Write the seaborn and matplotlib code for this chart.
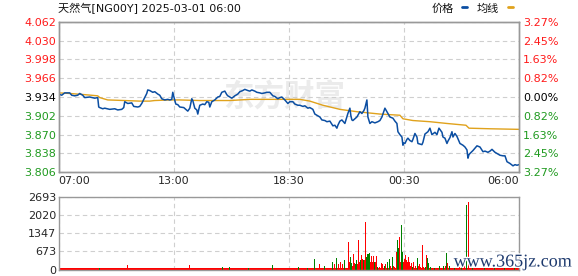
import matplotlib
matplotlib.use("Agg")
import matplotlib.pyplot as plt
import matplotlib.patheffects as pe
from matplotlib.lines import Line2D
import pandas as pd
import seaborn as sns

# ---------------- data ----------------
title_text = "天然气[NG00Y] 2025-03-01 06:00"
legend_price = "价格"
legend_avg = "均线"
watermark_cn = "东方财富"
watermark_site = "www.365jz.com"

price_ticks = [3.806, 3.838, 3.870, 3.902, 3.934, 3.966, 3.998, 4.030, 4.062]
price_tick_labels = ["3.806", "3.838", "3.870", "3.902", "3.934", "3.966", "3.998", "4.030", "4.062"]
pct_labels = ["3.27%", "2.45%", "1.63%", "0.82%", "0.00%", "0.82%", "1.63%", "2.45%", "3.27%"]
tick_side = ["down", "down", "down", "down", "flat", "up", "up", "up", "up"]

time_ticks = [0, 345, 690, 1035, 1380]          # minutes from 07:00
time_labels = ["07:00", "13:00", "18:30", "00:30", "06:00"]

vol_ticks = [0, 673, 1347, 2020, 2693]
vol_labels = ["0", "673", "1347", "2020", "2693"]

# price series (minutes after 07:00, price)
price_min = [0, 9, 18, 33, 39, 48, 57, 63, 72, 78, 93, 108, 117, 120, 123, 132, 138, 153, 168, 177,
             189, 195, 198, 207, 219, 225, 237, 243, 249, 258, 264, 267, 273, 282, 288, 297, 303, 309, 318, 327,
             333, 339, 342, 345, 351, 357, 363, 375, 387, 393, 399, 402, 408, 414, 417, 420, 423, 432, 438, 444,
             450, 453, 459, 468, 477, 483, 489, 498, 504, 507, 513, 519, 528, 537, 543, 552, 558, 567, 573, 579,
             588, 594, 603, 609, 618, 624, 633, 642, 648, 657, 663, 669, 678, 687, 693, 702, 708, 717, 723, 732,
             738, 747, 753, 762, 768, 777, 783, 789, 798, 804, 813, 822, 828, 834, 837, 843, 849, 858, 864, 867,
             873, 876, 879, 882, 888, 894, 903, 909, 915, 918, 924, 927, 933, 939, 948, 957, 963, 969, 978, 984,
             993, 1002, 1008, 1014, 1017, 1023, 1029, 1032, 1035, 1038, 1044, 1047, 1053, 1059, 1062, 1068, 1074, 1077, 1083, 1089,
             1092, 1098, 1107, 1113, 1119, 1128, 1134, 1140, 1149, 1152, 1158, 1164, 1167, 1173, 1179, 1182, 1188, 1194, 1203, 1212,
             1218, 1224, 1227, 1230, 1233, 1242, 1248, 1254, 1263, 1272, 1278, 1287, 1293, 1299, 1308, 1317, 1323, 1332, 1338, 1344,
             1353, 1362, 1368, 1374, 1380]
price_val = [3.939, 3.937, 3.941, 3.941, 3.937, 3.936, 3.937, 3.940, 3.937, 3.933, 3.934, 3.932, 3.933, 3.917, 3.916, 3.914, 3.915, 3.913, 3.914, 3.912,
             3.913, 3.916, 3.926, 3.923, 3.924, 3.918, 3.917, 3.918, 3.923, 3.933, 3.940, 3.946, 3.945, 3.942, 3.943, 3.939, 3.937, 3.931, 3.929, 3.930,
             3.929, 3.930, 3.942, 3.935, 3.922, 3.921, 3.917, 3.916, 3.910, 3.915, 3.931, 3.928, 3.915, 3.912, 3.905, 3.913, 3.920, 3.922, 3.921, 3.926,
             3.925, 3.917, 3.926, 3.929, 3.934, 3.935, 3.942, 3.944, 3.938, 3.936, 3.934, 3.932, 3.936, 3.939, 3.943, 3.945, 3.947, 3.945, 3.944, 3.946,
             3.944, 3.942, 3.941, 3.940, 3.941, 3.942, 3.942, 3.936, 3.935, 3.931, 3.933, 3.934, 3.929, 3.923, 3.926, 3.926, 3.922, 3.920, 3.920, 3.918,
             3.919, 3.915, 3.916, 3.913, 3.905, 3.902, 3.900, 3.895, 3.894, 3.892, 3.893, 3.885, 3.886, 3.881, 3.886, 3.893, 3.895, 3.889, 3.900, 3.906,
             3.915, 3.902, 3.895, 3.894, 3.897, 3.900, 3.909, 3.906, 3.911, 3.915, 3.929, 3.900, 3.889, 3.892, 3.890, 3.892, 3.894, 3.900, 3.915, 3.909,
             3.900, 3.898, 3.893, 3.889, 3.875, 3.870, 3.866, 3.852, 3.856, 3.855, 3.862, 3.864, 3.860, 3.858, 3.862, 3.872, 3.866, 3.855, 3.854, 3.853,
             3.857, 3.871, 3.875, 3.881, 3.870, 3.874, 3.870, 3.881, 3.874, 3.866, 3.864, 3.855, 3.859, 3.865, 3.875, 3.866, 3.872, 3.867, 3.855, 3.852,
             3.849, 3.844, 3.830, 3.836, 3.838, 3.843, 3.847, 3.851, 3.849, 3.841, 3.842, 3.840, 3.842, 3.845, 3.840, 3.837, 3.835, 3.834, 3.834, 3.824,
             3.821, 3.817, 3.819, 3.818, 3.819]

# average line
avg_min = [0, 33, 78, 117, 123, 135, 147, 198, 243, 273, 288, 333, 363, 423, 513, 573, 663, 723, 753, 792,
           843, 894, 963, 1023, 1032, 1062, 1113, 1164, 1221, 1230, 1293, 1380]
avg_val = [3.941, 3.940, 3.938, 3.936, 3.933, 3.931, 3.929, 3.928, 3.927, 3.927, 3.928, 3.929, 3.929, 3.928, 3.928, 3.930, 3.930, 3.930, 3.927, 3.920,
           3.913, 3.909, 3.905, 3.903, 3.897, 3.894, 3.892, 3.889, 3.886, 3.881, 3.880, 3.879]

# volume spikes
vol_min = [123, 207, 393, 492, 513, 570, 642, 720, 747, 753, 768, 783, 792, 798, 807, 822, 828, 834, 840, 846,
           852, 858, 864, 870, 873, 876, 879, 882, 885, 888, 891, 894, 897, 900, 903, 906, 909, 912, 915, 918,
           921, 924, 927, 930, 933, 936, 939, 942, 945, 948, 951, 954, 957, 963, 969, 972, 978, 981, 987, 993,
           996, 1002, 1005, 1008, 1014, 1017, 1020, 1023, 1026, 1029, 1032, 1035, 1038, 1041, 1044, 1047, 1050, 1053, 1056, 1059,
           1062, 1065, 1071, 1077, 1080, 1083, 1086, 1092, 1095, 1101, 1104, 1107, 1110, 1116, 1122, 1128, 1134, 1143, 1149, 1155,
           1161, 1164, 1167, 1173, 1179, 1188, 1197, 1203, 1209, 1218, 1224, 1230, 1236, 1242, 1251, 1263, 1278, 1293, 1308, 1323,
           1338, 1353, 1368]
vol_val = [50, 170, 170, 110, 110, 80, 160, 86, 60, 50, 380, 197, 80, 120, 60, 270, 220, 418, 220, 280,
           200, 344, 70, 1020, 300, 467, 260, 150, 566, 260, 220, 350, 200, 1100, 300, 370, 529, 400, 350, 370,
           1771, 470, 566, 566, 600, 280, 490, 300, 516, 280, 280, 500, 100, 100, 250, 220, 150, 220, 280, 400,
           120, 480, 150, 100, 664, 1095, 800, 1200, 300, 1650, 660, 300, 400, 541, 350, 300, 460, 300, 150, 250,
           100, 300, 150, 418, 150, 200, 100, 910, 100, 100, 541, 418, 250, 100, 80, 80, 60, 120, 80, 150,
           120, 600, 250, 150, 60, 80, 60, 100, 120, 150, 2386, 2500, 100, 60, 80, 50, 60, 50, 60, 50,
           50, 50, 50]
vol_dir = ["G", "R", "R", "G", "G", "G", "G", "G", "G", "R", "G", "R", "R", "G", "R", "G", "R", "G", "R", "R",
           "R", "G", "R", "R", "R", "G", "G", "R", "R", "R", "G", "G", "R", "R", "R", "G", "R", "R", "G", "R",
           "R", "G", "G", "G", "G", "R", "R", "R", "R", "G", "R", "R", "G", "R", "R", "R", "G", "R", "G", "G",
           "R", "G", "R", "R", "R", "G", "G", "R", "R", "G", "G", "R", "R", "R", "R", "R", "R", "R", "R", "R",
           "G", "R", "R", "G", "R", "R", "R", "R", "R", "G", "R", "G", "G", "G", "R", "G", "R", "G", "R", "G",
           "R", "G", "R", "G", "R", "G", "R", "R", "G", "R", "G", "R", "R", "G", "R", "R", "G", "R", "G", "R",
           "G", "R", "G"]

# thin background volume strip (hourly)
base_min = [30, 90, 150, 210, 270, 330, 390, 450, 510, 570, 630, 690, 750, 810, 870, 930, 990, 1050, 1110, 1170,
            1230, 1290, 1350]
base_val = [55, 55, 55, 55, 55, 55, 55, 55, 55, 55, 55, 55, 55, 55, 55, 55, 55, 55, 55, 55,
            55, 55, 55]
base_dir = ["R", "R", "R", "R", "R", "R", "R", "R", "R", "R", "R", "R", "R", "R", "R", "R", "R", "R", "R", "R",
            "R", "R", "R"]

assert len(price_min) == len(price_val)
assert len(avg_min) == len(avg_val)
assert len(vol_min) == len(vol_val) == len(vol_dir)
assert len(base_min) == len(base_val) == len(base_dir)

# ---------------- style ----------------
sns.set_style("white")
plt.rcParams["font.family"] = ["DejaVu Sans", "Noto Sans CJK SC"]

BLUE = "#0b4ea2"
GOLD = "#e0a21c"
RED = "#ff1a1a"
GREEN = "#1f9a1f"
GRID = "#cfcfcf"
SPINE = "#999999"
side_color = {"up": RED, "flat": "#000000", "down": GREEN}
vol_palette = {"R": "#ff0000", "G": "#008000"}

W, H = 578, 276
fig = plt.figure(figsize=(W / 100, H / 100), dpi=100)
fig.patch.set_facecolor("white")

left = 58.7 / W
width = (519 - 58.7) / W
ax = fig.add_axes([left, (H - 172.3) / H, width, (172.3 - 21.7) / H])
axv = fig.add_axes([left, (H - 269.7) / H, width, (269.7 - 196.7) / H])

# ---------------- price panel ----------------
ax.text(0.49, 0.50, watermark_cn, transform=ax.transAxes, ha="center", va="center",
        fontsize=22, fontweight="bold", color="#ebebeb", family=["Noto Sans CJK SC"], zorder=0)

sns.lineplot(x=avg_min, y=avg_val, ax=ax, color=GOLD, linewidth=1.0, zorder=2)
sns.lineplot(x=price_min, y=price_val, ax=ax, color=BLUE, linewidth=1.1, zorder=3)

ax.set_xlim(time_ticks[0], time_ticks[-1])
ax.set_ylim(price_ticks[0], price_ticks[-1])
ax.set_yticks(price_ticks)
ax.set_yticklabels(price_tick_labels)
ax.set_xticks(time_ticks)
ax.set_xticklabels(time_labels)
ax.set_xlabel("")
ax.set_ylabel("")
ax.grid(True, color=GRID, linestyle=(0, (4, 3)), linewidth=0.8)
ax.tick_params(axis="both", length=0, labelsize=8)
ax.tick_params(axis="y", pad=2)
ax.tick_params(axis="x", pad=3)
for lab, s in zip(ax.get_yticklabels(), tick_side):
    lab.set_color(side_color[s])
xl = ax.get_xticklabels()
xl[0].set_horizontalalignment("left")
xl[-1].set_horizontalalignment("right")
for sp in ax.spines.values():
    sp.set_color(SPINE)
    sp.set_linewidth(1)

axr = ax.twinx()
axr.set_ylim(price_ticks[0], price_ticks[-1])
axr.set_yticks(price_ticks)
axr.set_yticklabels(pct_labels)
axr.tick_params(axis="y", length=0, labelsize=8, pad=3)
for lab, s in zip(axr.get_yticklabels(), tick_side):
    lab.set_color(side_color[s])
for sp in axr.spines.values():
    sp.set_color(SPINE)
    sp.set_linewidth(1)

# ---------------- volume panel ----------------
df_base = pd.DataFrame({"t": base_min, "v": base_val, "d": base_dir})
df_vol = pd.DataFrame({"t": vol_min, "v": vol_val, "d": vol_dir})
sns.histplot(data=df_base, x="t", weights="v", hue="d", palette=vol_palette,
             binwidth=60, binrange=(0, 1380), multiple="layer", element="bars",
             fill=True, alpha=1, linewidth=0, shrink=1.0, legend=False, ax=axv, zorder=1)
sns.histplot(data=df_vol, x="t", weights="v", hue="d", palette=vol_palette,
             binwidth=3, binrange=(-1.5, 1381.5), multiple="layer", element="bars",
             fill=True, alpha=1, linewidth=0, shrink=1.0, legend=False, ax=axv, zorder=2)
axv.set_xlim(time_ticks[0], time_ticks[-1])
axv.set_ylim(vol_ticks[0], vol_ticks[-1])
axv.set_yticks(vol_ticks)
axv.set_yticklabels(vol_labels)
axv.set_xticks(time_ticks)
axv.set_xticklabels([])
axv.set_xlabel("")
axv.set_ylabel("")
axv.set_axisbelow(True)
axv.grid(True, color=GRID, linestyle=(0, (4, 3)), linewidth=0.8)
axv.tick_params(axis="both", length=0, labelsize=8)
axv.tick_params(axis="y", pad=2)
for sp in axv.spines.values():
    sp.set_color(SPINE)
    sp.set_linewidth(1)

# ---------------- header ----------------
fig.text(58 / W, 1 - 9 / H, title_text, ha="left", va="center", fontsize=8, color="#111111")
fig.text(432 / W, 1 - 9 / H, legend_price, ha="left", va="center", fontsize=8, color="#111111")
fig.add_artist(Line2D([462 / W, 467 / W], [1 - 7 / H, 1 - 7 / H], color=BLUE, linewidth=2,
                      transform=fig.transFigure))
fig.text(477 / W, 1 - 9 / H, legend_avg, ha="left", va="center", fontsize=8, color="#111111")
fig.add_artist(Line2D([508 / W, 513 / W], [1 - 7 / H, 1 - 7 / H], color=GOLD, linewidth=2,
                      transform=fig.transFigure))

site = fig.text(571 / W, 1 - 262 / H, watermark_site, ha="right", va="center", fontsize=13,
                color="#1e3a6e", family=["Liberation Serif"])
site.set_path_effects([pe.withStroke(linewidth=2, foreground="white")])

fig.savefig("out.png", dpi=100, facecolor="white")
